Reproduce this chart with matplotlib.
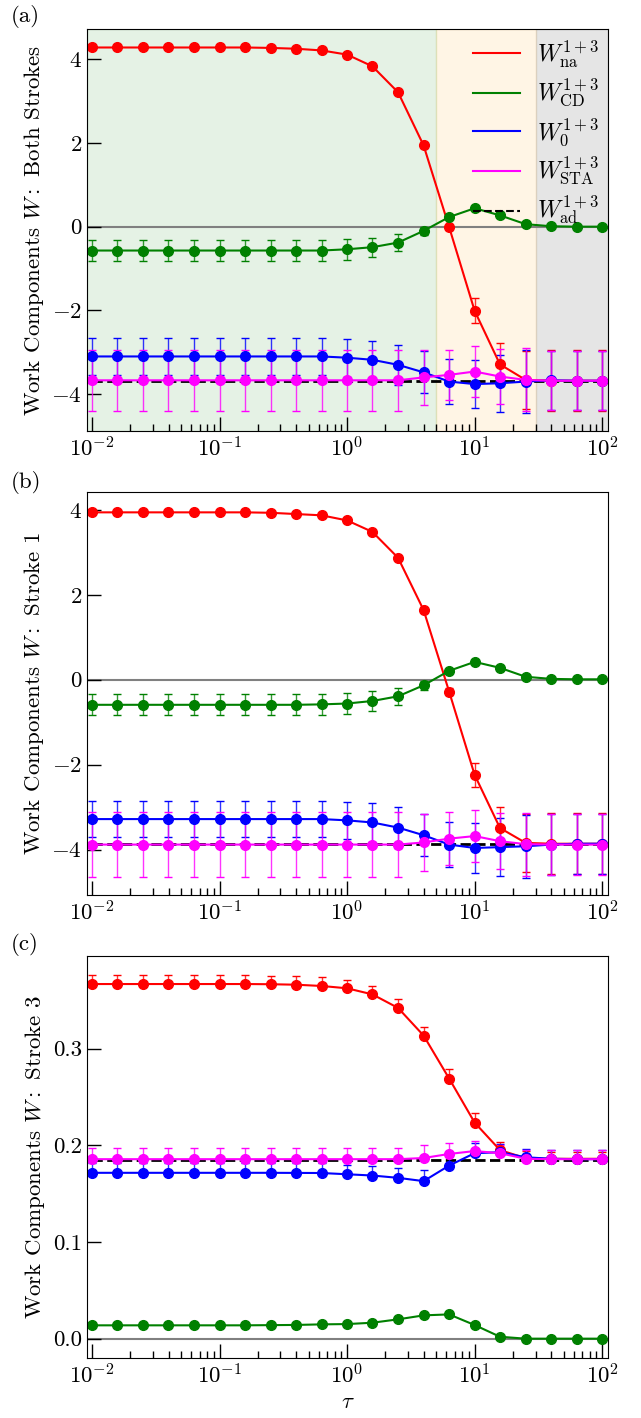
import numpy as np
import matplotlib
matplotlib.use("Agg")
import matplotlib.pyplot as plt
from matplotlib.lines import Line2D

plt.rcParams['font.family'] = 'serif'
plt.rcParams['font.serif'] = ['cmr10']
plt.rcParams['mathtext.fontset'] = 'cm'
plt.rcParams['axes.formatter.use_mathtext'] = True
plt.rcParams['font.size'] = 16.5

# driving time tau
tau = [0.01, 0.0158, 0.0251, 0.0398, 0.0631, 0.1, 0.158, 0.251, 0.398, 0.631,
       1.0, 1.58, 2.51, 3.98, 6.31, 10.0, 15.8, 25.1, 39.8, 63.1, 100.0]

# (a) both strokes
na_a = [4.28, 4.28, 4.28, 4.28, 4.28, 4.28, 4.28, 4.27, 4.25, 4.21, 4.11, 3.83, 3.21, 1.94, -0.01, -2.01, -3.29, -3.66, -3.68, -3.68, -3.68]
cd_a = [-0.57, -0.57, -0.57, -0.57, -0.57, -0.57, -0.57, -0.57, -0.57, -0.57, -0.54, -0.49, -0.38, -0.10, 0.23, 0.44, 0.27, 0.06, 0.01, 0.0, 0.0]
w0_a = [-3.10, -3.10, -3.10, -3.10, -3.10, -3.10, -3.10, -3.10, -3.10, -3.10, -3.13, -3.18, -3.30, -3.48, -3.70, -3.76, -3.74, -3.70, -3.67, -3.68, -3.68]
sta_a = [-3.67, -3.67, -3.67, -3.67, -3.67, -3.67, -3.67, -3.67, -3.67, -3.67, -3.67, -3.67, -3.67, -3.60, -3.54, -3.46, -3.58, -3.66, -3.68, -3.68, -3.68]
ad_a = [-3.68] * 21
na_err_a = [0.02, 0.02, 0.02, 0.02, 0.02, 0.02, 0.02, 0.02, 0.02, 0.02, 0.02, 0.02, 0.03, 0.05, 0.08, 0.30, 0.52, 0.69, 0.73, 0.73, 0.73]
cd_err_a = [0.25, 0.25, 0.25, 0.25, 0.25, 0.25, 0.25, 0.25, 0.25, 0.25, 0.25, 0.23, 0.20, 0.10, 0.05, 0.03, 0.02, 0.02, 0.02, 0.02, 0.02]
w0_err_a = [0.44, 0.44, 0.44, 0.44, 0.44, 0.44, 0.44, 0.44, 0.44, 0.44, 0.45, 0.45, 0.48, 0.50, 0.53, 0.58, 0.68, 0.75, 0.71, 0.71, 0.71]
sta_err_a = [0.73, 0.73, 0.73, 0.73, 0.73, 0.73, 0.73, 0.73, 0.73, 0.73, 0.73, 0.73, 0.73, 0.66, 0.60, 0.61, 0.66, 0.75, 0.71, 0.71, 0.71]

# (b) stroke 1
na_b = [3.94, 3.94, 3.94, 3.94, 3.94, 3.94, 3.94, 3.93, 3.90, 3.87, 3.75, 3.48, 2.87, 1.64, -0.28, -2.24, -3.49, -3.84, -3.86, -3.86, -3.86]
cd_b = [-0.59, -0.59, -0.59, -0.59, -0.59, -0.59, -0.59, -0.59, -0.59, -0.58, -0.56, -0.50, -0.39, -0.13, 0.21, 0.42, 0.28, 0.07, 0.02, 0.01, 0.01]
w0_b = [-3.28, -3.28, -3.28, -3.28, -3.28, -3.28, -3.28, -3.28, -3.28, -3.28, -3.31, -3.36, -3.48, -3.66, -3.88, -3.96, -3.94, -3.92, -3.88, -3.86, -3.86]
sta_b = [-3.88, -3.88, -3.88, -3.88, -3.88, -3.88, -3.88, -3.88, -3.88, -3.88, -3.88, -3.88, -3.88, -3.83, -3.74, -3.68, -3.80, -3.87, -3.88, -3.88, -3.88]
ad_b = [-3.87] * 21
na_err_b = [0.02, 0.02, 0.02, 0.02, 0.02, 0.02, 0.02, 0.02, 0.02, 0.02, 0.02, 0.02, 0.03, 0.05, 0.08, 0.28, 0.50, 0.68, 0.72, 0.72, 0.72]
cd_err_b = [0.25, 0.25, 0.25, 0.25, 0.25, 0.25, 0.25, 0.25, 0.25, 0.25, 0.25, 0.23, 0.20, 0.10, 0.05, 0.03, 0.02, 0.02, 0.02, 0.02, 0.02]
w0_err_b = [0.43, 0.43, 0.43, 0.43, 0.43, 0.43, 0.43, 0.43, 0.43, 0.43, 0.44, 0.45, 0.48, 0.50, 0.53, 0.58, 0.68, 0.74, 0.71, 0.71, 0.71]
sta_err_b = [0.76, 0.76, 0.76, 0.76, 0.76, 0.76, 0.76, 0.76, 0.76, 0.76, 0.76, 0.76, 0.76, 0.68, 0.62, 0.62, 0.66, 0.74, 0.71, 0.71, 0.71]

# (c) stroke 3 (upper error bars only)
na_c = [0.3667, 0.3667, 0.3667, 0.3667, 0.3667, 0.3667, 0.3667, 0.3665, 0.366, 0.3647, 0.3623, 0.356, 0.342, 0.3134, 0.269, 0.2234, 0.195, 0.1866, 0.186, 0.186, 0.186]
cd_c = [0.0138, 0.0138, 0.0138, 0.0138, 0.0138, 0.0138, 0.0138, 0.0140, 0.0142, 0.0148, 0.0151, 0.0165, 0.020, 0.0241, 0.0251, 0.0141, 0.002, 0.0, 0.0, 0.0, 0.0]
w0_c = [0.1715, 0.1715, 0.1715, 0.1715, 0.1715, 0.1715, 0.1715, 0.1715, 0.1714, 0.1713, 0.170, 0.1687, 0.1663, 0.1629, 0.179, 0.1918, 0.1928, 0.1876, 0.186, 0.1856, 0.1856]
sta_c = [0.1856, 0.1856, 0.1856, 0.1856, 0.1856, 0.1856, 0.1856, 0.1856, 0.1856, 0.1856, 0.1856, 0.1856, 0.1856, 0.1868, 0.191, 0.194, 0.1918, 0.186, 0.1856, 0.1856, 0.1856]
ad_c = [0.185] * 21
na_err_c = [0.009, 0.009, 0.009, 0.009, 0.009, 0.009, 0.009, 0.009, 0.009, 0.009, 0.009, 0.009, 0.009, 0.009, 0.010, 0.010, 0.008, 0.007, 0.007, 0.007, 0.007]
cd_err_c = [0.001] * 21
w0_err_c = [0.010, 0.010, 0.010, 0.010, 0.010, 0.010, 0.010, 0.010, 0.010, 0.010, 0.010, 0.010, 0.010, 0.011, 0.010, 0.0107, 0.0086, 0.0086, 0.009, 0.009, 0.009]
sta_err_c = [0.0115, 0.0115, 0.0115, 0.0115, 0.0115, 0.0115, 0.0115, 0.0115, 0.0115, 0.0115, 0.0115, 0.0115, 0.0115, 0.0134, 0.0117, 0.0107, 0.008, 0.0096, 0.009, 0.009, 0.009]

colors = ['red', 'green', 'blue', 'magenta']
labels = [r'$W_{\rm na}^{1+3}$', r'$W_{\rm CD}^{1+3}$', r'$W_{0}^{1+3}$',
          r'$W_{\rm STA}^{1+3}$', r'$W_{\rm ad}^{1+3}$']

panels = [
    ([na_a, cd_a, w0_a, sta_a], [na_err_a, cd_err_a, w0_err_a, sta_err_a], ad_a, 'Both Strokes', (-4.89, 4.72), False),
    ([na_b, cd_b, w0_b, sta_b], [na_err_b, cd_err_b, w0_err_b, sta_err_b], ad_b, 'Stroke 1', (-5.06, 4.41), False),
    ([na_c, cd_c, w0_c, sta_c], [na_err_c, cd_err_c, w0_err_c, sta_err_c], ad_c, 'Stroke 3', (-0.02, 0.396), True),
]

fig, axes = plt.subplots(3, 1, figsize=(6.41, 14.18), dpi=100)
plt.subplots_adjust(left=0.1357, right=0.9485, top=0.9795, bottom=0.0423, hspace=0.1516)

xmin, xmax = 0.00914, 111

for i, (ax, (series, errs, ad, name, ylim, upper_only)) in enumerate(zip(axes, panels)):
    ax.set_xscale('log')
    if i == 0:
        # regimes
        ax.axvspan(xmin, 5, color='green', alpha=0.1, zorder=0)
        ax.axvspan(5, 30, color='orange', alpha=0.1, zorder=0)
        ax.axvspan(30, xmax, color='gray', alpha=0.2, zorder=0)
    ax.axhline(0, color='gray', lw=1.5, zorder=1)
    ax.plot(tau, ad, 'k--', lw=2, zorder=1.9)
    for y, e, c in zip(series, errs, colors):
        yerr = [np.zeros(len(e)), e] if upper_only else e
        eb = ax.errorbar(tau, y, yerr=yerr, color=c, marker='o', ms=7, lw=1.5,
                         elinewidth=1, capsize=3, capthick=1)
        for lc in eb[2]:
            lc.set_alpha(0.8)
    ax.set_xlim(xmin, xmax)
    ax.set_ylim(*ylim)
    ax.set_ylabel('Work Components $W:$ ' + name)
    ax.tick_params(which='major', direction='in', length=10, width=1)
    ax.tick_params(which='minor', direction='in', length=5, width=1)
    if upper_only:
        ax.set_yticks([0.0, 0.1, 0.2, 0.3])
        ax.set_yticklabels(['0.0', '0.1', '0.2', '0.3'])
    else:
        ax.set_yticks([-4, -2, 0, 2, 4])

axes[2].set_xlabel(r'$\tau$')

handles = [Line2D([], [], color=c, lw=1.5) for c in colors]
handles.append(Line2D([], [], color='k', ls='--', lw=1.5))
axes[0].legend(handles, labels, loc='upper right', frameon=False, fontsize=17,
               handlelength=2.0, labelspacing=0.3, borderaxespad=0.0,
               handletextpad=0.7)

fig.text(0.017, 1 - 16 / 1418, '(a)', va='center', fontsize=16.5)
fig.text(0.017, 1 - 483 / 1418, '(b)', va='center', fontsize=16.5)
fig.text(0.017, 1 - 944 / 1418, '(c)', va='center', fontsize=16.5)

plt.savefig('out.png', dpi=100)
